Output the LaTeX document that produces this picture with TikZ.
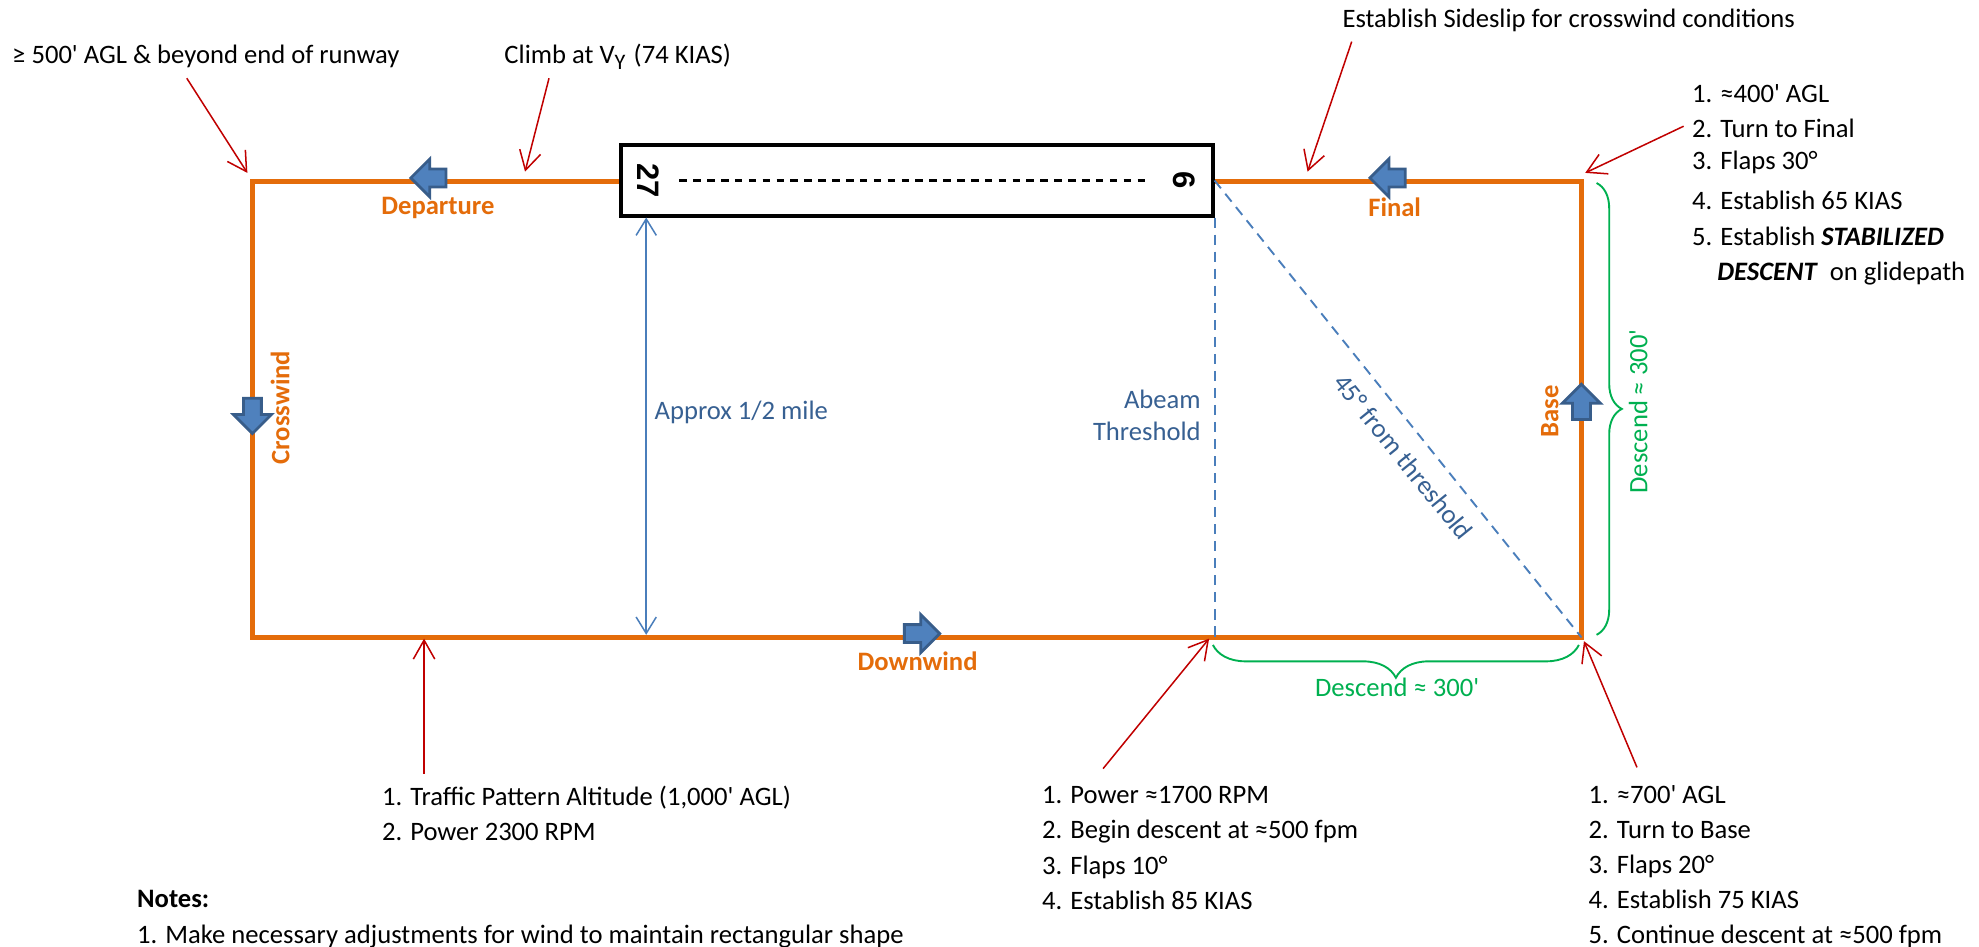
\documentclass[tikz,border=0pt]{standalone}
\usepackage{fontspec}
\setmainfont{Carlito}
\newfontfamily\rwyfont{Liberation Sans}
\usetikzlibrary{arrows.meta,shapes.arrows,decorations.pathreplacing}
\definecolor{legorange}{HTML}{E46C0A}
\definecolor{arrowfill}{HTML}{4F81BD}
\definecolor{arrowline}{HTML}{385D8A}
\definecolor{guideblue}{HTML}{4A7EBB}
\definecolor{textblue}{HTML}{376092}
\definecolor{notered}{HTML}{C00000}
\definecolor{descgreen}{HTML}{00B050}
\newcommand{\feet}{\textquotesingle}
\begin{document}
\begin{tikzpicture}[x=0.1mm,y=-0.1mm,
    every node/.style={inner sep=0pt,font=\fontsize{6}{8}\selectfont},
    leg/.style={text=legorange,font=\fontsize{6}{8}\selectfont\bfseries},
    legarrow/.style={single arrow,draw=arrowline,fill=arrowfill,line width=0.22mm,
      inner xsep=0pt,inner ysep=0.6mm,minimum height=2.8mm,
      single arrow head extend=0.8mm,single arrow head indent=0pt},
    rwynum/.style={font=\rwyfont\fontsize{7}{8}\selectfont\bfseries},
    callout/.style={draw=notered,line width=0.12mm,-{Straight Barb[length=1.5mm,width=1.7mm]}},
    guideline/.style={draw=guideblue,line width=0.15mm,dash pattern=on 0.8mm off 0.55mm},
    bluetext/.style={text=textblue,font=\fontsize{6}{7.1}\selectfont},
    descbrace/.style={draw=descgreen,line width=0.15mm,decorate,decoration={brace,amplitude=2mm}},
    desctext/.style={text=descgreen},
    steplist/.style={anchor=north west,align=left}]
    \useasboundingbox (0,0) rectangle (1568,750);

    % pattern corners
    \coordinate (nw) at (200,144);
    \coordinate (sw) at (200,505);
    \coordinate (se) at (1253,505);
    \coordinate (ne) at (1253,144);

    % runway
    \node[draw,line width=0.27mm,minimum width=46.9mm,minimum height=5.6mm] (rwy) at (726.5,143) {};
    \node[rwynum,rotate=-90] (r27) at (514,143) {27};
    \node[rwynum,rotate=-90] (r6) at (938,143) {6};
    \draw[line width=0.17mm,dash pattern=on 0.6mm off 0.5mm,shorten <=1.5mm,shorten >=1.9mm] (r27) -- (r6);

    % traffic pattern
    \draw[legorange,line width=0.4mm] (rwy.west |- nw) -- (nw) -- (sw) -- (se) -- (ne) -- (rwy.east |- ne);
    \node[legarrow,rotate=180] (depa) at (343,141) {};
    \node[legarrow,rotate=270] (cwa) at (200,326) {};
    \node[legarrow] (dwa) at (727,502) {};
    \node[legarrow,rotate=90] (bsa) at (1253,322) {};
    \node[legarrow,rotate=180] (fna) at (1103,141) {};
    \node[leg] (dep) at (347,165) {Departure};
    \node[leg,rotate=90] (cw) at (222,323) {Crosswind};
    \node[leg] (dw) at (727,524) {Downwind};
    \node[leg,rotate=90] (bs) at (1228,326) {Base};
    \node[leg] (fin) at (1105,164) {Final};

    % distances
    \coordinate (hm) at (512,503);
    \draw[draw=guideblue,line width=0.12mm,{Straight Barb[length=1.3mm,width=1.6mm]}-{Straight Barb[length=1.3mm,width=1.6mm]}] (rwy.south -| hm) -- (hm);
    \node[bluetext,anchor=west] (apx) at (518,327) {Approx 1/2 mile};
    \draw[guideline] (rwy.south east) -- (rwy.south east |- se);
    \draw[guideline] (rwy.east) -- (se);
    \node[bluetext,align=right,anchor=east] (abm) at (952,329) {Abeam\\Threshold};
    \node[bluetext,rotate=-51] (deg) at (1112,362) {45° from threshold};

    \coordinate (v1) at (1265,145);
    \coordinate (v2) at (1265,503);
    \draw[descbrace] (v1) -- (v2);
    \node[desctext,rotate=90] (vd) at (1298,326) {Descend ≈ 300\feet};
    \coordinate (h1) at (1251,511);
    \coordinate (h2) at (961,511);
    \draw[descbrace,decoration={brace,amplitude=2.6mm}] (h1) -- (h2);
    \node[desctext] (hd) at (1107,545) {Descend ≈ 300\feet};

    % call-outs
    \node[anchor=west] (t500) at (9,45) {≥ 500\feet{} AGL \& beyond end of runway};
    \node[anchor=west] (tclimb) at (399,45) {Climb at V\textsubscript{Y} (74 KIAS)};
    \node[anchor=west] (tslip) at (1063,16) {Establish Sideslip for crosswind conditions};
    \node[steplist] (tfin) at (1340,66) {1. ≈400\feet{} AGL\\2. Turn to Final\\[-0.8pt]3. Flaps 30°\\[1.1pt]4. Establish 65 KIAS\\5. Establish \textbf{\textit{STABILIZED}}\\\hspace*{2mm}\textbf{\textit{DESCENT}}\ \ on glidepath};
    \node[steplist] (ttpa) at (302,622) {1. Traffic Pattern Altitude (1,000\feet{} AGL)\\2. Power 2300 RPM};
    \node[steplist] (tpwr) at (825,622) {1. Power ≈1700 RPM\\2. Begin descent at ≈500 fpm\\3. Flaps 10°\\4. Establish 85 KIAS};
    \node[steplist,font=\fontsize{6}{7.85}\selectfont] (tbase) at (1258,622) {1. ≈700\feet{} AGL\\2. Turn to Base\\3. Flaps 20°\\4. Establish 75 KIAS\\5. Continue descent at ≈500 fpm};
    \node[steplist] (tnote) at (108,705) {\textbf{Notes:}\\1. Make necessary adjustments for wind to maintain rectangular shape};

    \coordinate (c500) at (148,62);
    \coordinate (cclimb) at (435,62);
    \coordinate (cslip) at (1071,33);
    \coordinate (cfin) at (1334,100);
    \coordinate (ctpa) at (336,613);
    \coordinate (cpwr) at (874,609);
    \coordinate (cbase) at (1297,608);
    \coordinate (e500) at (196,137);
    \coordinate (eclimb) at (416,136);
    \coordinate (eslip) at (1036,136);
    \coordinate (efin) at (1256,137);
    \coordinate (etpa) at (336,506);
    \coordinate (epwr) at (958,506);
    \coordinate (ebase) at (1255,508);
    \draw [callout] (c500) -- (e500);
    \draw [callout] (cclimb) -- (eclimb);
    \draw [callout] (cslip) -- (eslip);
    \draw [callout] (cfin) -- (efin);
    \draw [callout] (ctpa) -- (etpa);
    \draw [callout] (cpwr) -- (epwr);
    \draw [callout] (cbase) -- (ebase);
\end{tikzpicture}
\end{document}
